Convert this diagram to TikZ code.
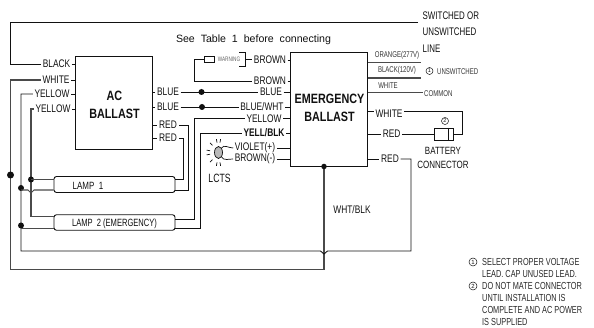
\documentclass[tikz,border=0pt]{standalone}
\usepackage{fontspec}
\setmainfont{Liberation Sans}
\newfontfamily\narrowf[FakeStretch=0.76]{Liberation Sans}
\newfontfamily\tightf[FakeStretch=0.72]{Liberation Sans}
\newfontfamily\titlef[FakeStretch=0.8]{Liberation Sans}
\usetikzlibrary{calc,shapes.geometric}
\definecolor{ink}{HTML}{111111}
\definecolor{wiregray}{HTML}{4A4A4A}
\tikzset{
  wire/.style={draw=ink,line width=0.9pt},
  gwire/.style={draw=wiregray,line width=1.05pt},
  boxn/.style={draw=ink,line width=0.9pt,fill=white},
  lab/.style={inner sep=1.5pt,font=\narrowf\fontsize{11}{12}\selectfont,text=ink},
  small/.style={inner sep=1pt,font=\tightf\fontsize{8.4}{10}\selectfont,text=ink!85!white},
  tiny/.style={inner sep=0.5pt,font=\tightf\fontsize{6.5}{8}\selectfont,text=ink!65!white},
  title/.style={align=center,inner sep=0pt,font=\bfseries\titlef\fontsize{13.5}{18.5}\selectfont,text=ink},
  note/.style={anchor=west,inner sep=0pt,font=\tightf\fontsize{10.2}{11}\selectfont,text=ink!90!white},
  num/.style={circle,draw=ink,line width=0.5pt,inner sep=0pt,minimum size=7pt,font=\fontsize{5.5}{6}\selectfont,text=ink},
  lampn/.style={draw=ink,line width=0.9pt,rounded corners=2.5pt,fill=white,minimum width=121pt,inner sep=0pt},
  jn/.style={circle,fill=ink,inner sep=0pt,minimum size=#1},
  jn/.default=6pt
}
\begin{document}
\begin{tikzpicture}[x=1pt,y=-1pt]
\useasboundingbox (0,0) rectangle (594,328);
\fill[white] (0,0) rectangle (594,328);

% boxes
\node[boxn,minimum width=76.5pt,minimum height=92.5pt,inner sep=0pt] (acb) at (113.75,102.75) {};
\node[title] at (114.5,105) {AC\\BALLAST};
\node[boxn,minimum width=77.5pt,minimum height=113.5pt,inner sep=0pt] (emb) at (328.75,109.25) {};
\node[title] at (329.5,108) {EMERGENCY\\BALLAST};
\node[lampn,minimum height=16pt] (l1) at (114.5,184.5) {};
\node[lab,font=\narrowf\fontsize{10.5}{12}\selectfont] at (88,185.5) {LAMP \ 1};
\node[lampn,minimum height=15.5pt] (l2) at (114.5,222.5) {};
\node[lab,font=\tightf\fontsize{10.5}{12}\selectfont] at (114.5,223.5) {LAMP \ 2 (EMERGENCY)};

% title text
\node[inner sep=0pt,font=\fontsize{10.6}{12}\selectfont,text=ink] at (253.5,40) {See\ \ Table\ \ 1\ \ before\ \ connecting};

% AC left labels
\node[lab] (black) at (56.5,64) {BLACK};
\node[lab] (white) at (56,80) {WHITE};
\node[lab] (yel1) at (52,94) {YELLOW};
\node[lab] (yel2) at (53,109) {YELLOW};
% AC right labels
\node[lab] (bl1) at (168,92) {BLUE};
\node[lab] (bl2) at (168,107) {BLUE};
\node[lab] (rd1) at (168,125) {RED};
\node[lab] (rd2) at (168,138) {RED};
% Emergency left labels
\node[lab] (brn1) at (270,60) {BROWN};
\node[lab] (brn2) at (270,81) {BROWN};
\node[lab] (eblue) at (271,92) {BLUE};
\node[lab] (ebw) at (262,107) {BLUE/WHT};
\node[lab] (eyel) at (264,118.5) {YELLOW};
\node[lab,font=\bfseries\narrowf\fontsize{11}{12}\selectfont] (eyb) at (264,133) {YELL/BLK};
\node[lab] (vio) at (255,148) {VIOLET(+)};
\node[lab] (bro) at (255,159) {BROWN(-)};
\node[lab,font=\tightf\fontsize{12}{12}\selectfont] at (219.5,178.5) {LCTS};
% Emergency right labels
\node[small] at (397,55) {ORANGE(277V)};
\node[small] at (397,70) {BLACK(120V)};
\node[small] at (388,86) {WHITE};
\node[small,anchor=west] (comm) at (423,94) {COMMON};
\node[small,anchor=west] at (436,72) {UNSWITCHED};
\node[num] at (429.5,71) {1};
\node[lab] (ewh) at (389,113.5) {WHITE};
\node[lab] (erd) at (391.7,134) {RED};
\node[lab] (erd2) at (390,159) {RED};
\node[lab,font=\narrowf\fontsize{10.5}{12}\selectfont] at (443,151) {BATTERY};
\node[lab,font=\narrowf\fontsize{10.5}{12}\selectfont] at (443,165) {CONNECTOR};
\node[lab] at (352,210) {WHT/BLK};
\node[num] at (445,121) {2};
\node[lab,anchor=west,font=\tightf\fontsize{11}{12}\selectfont] (sw) at (421,16) {SWITCHED OR};
\node[lab,anchor=west,font=\tightf\fontsize{11}{12}\selectfont] at (421,32) {UNSWITCHED};
\node[lab,anchor=west,font=\tightf\fontsize{11}{12}\selectfont] at (421,48.5) {LINE};

% line wires
\coordinate (topr) at (418,22);
\coordinate (topl) at (10,22);
\draw[wire] (topr) -- (topl) |- (black.west);
\draw[wire] (black.east) -- (acb.west |- black);
\coordinate (wb) at (10.5,269.5);
\coordinate (wbr) at (324,269.5);
\coordinate (ndot) at (324,166.5);
\draw[gwire] (white.west) -| (wb) -- (wbr) -- (ndot);
\draw[wire] (white.east) -- (acb.west |- white);
\draw[wire] (yel1.east) -- (acb.west |- yel1);
\draw[wire] (yel2.east) -- (acb.west |- yel2);
\node[jn=7pt] (bigdot) at (10.5,175) {};

% yellow rails
\coordinate (y1b) at (21,251);
\coordinate (y1r) at (320.5,251);
\coordinate (y1m) at (324,254);
\coordinate (y1r2) at (327.5,251);
\coordinate (y1e) at (411,251);
\draw[wire] (yel1.west) -| (y1b) -- (y1r) -- (y1m) -- (y1r2) -- (y1e) |- (erd2.east);
\draw[gwire] (yel2.west) -| (31,216.5) -- (l2.west |- 0,216.5);
\node[jn] (d1) at (31,179.5) {};
\node[jn] (d2) at (21,188) {};
\node[jn] (d3) at (21,225.5) {};
\draw[gwire] (d1.center) -- (l1.west |- d1);
\draw[gwire] (21,190) -- (28,190) -- (31,193) -- (34,190) -- (l1.west |- 0,190);
\draw[gwire] (21,228.5) -- (l2.west |- 0,228.5);

% lamp right ends
\coordinate (r1t) at (183.5,179.5);
\coordinate (r1b) at (188.7,190);
\coordinate (r2t) at (194.3,219);
\coordinate (r2b) at (200.7,228.7);
\draw[wire] (l1.east |- r1t) -- (r1t) |- (rd2.east);
\draw[wire] (l1.east |- r1b) -- (r1b) |- (rd1.east);
\draw[wire] (l2.east |- r2t) -- (r2t) |- (eyel.west);
\draw[wire] (l2.east |- r2b) -- (r2b) |- (eyb.west);

% AC right ticks
\foreach \n in {bl1,bl2,rd1,rd2} \draw[wire] (acb.east |- \n) -- (\n.west);
\node[jn] (bd1) at (201.5,92) {};
\node[jn] (bd2) at (202,107) {};
\draw[wire] (bl1.east) -- (eblue.west);
\draw[wire] (bl2.east) -- (ebw.west);

% Emergency left ticks
\foreach \n in {brn1,brn2,eblue,ebw,eyel,eyb,vio,bro} \draw[wire] (\n.east) -- (emb.west |- \n);

% warning fuse
\node[draw=ink,line width=0.9pt,minimum width=9.5pt,minimum height=6pt,inner sep=0pt] (fuse) at (209.25,59) {};
\node[tiny] (warn) at (229,59.5) {WARNING};
\coordinate (brk) at (245.5,59.5);
\draw[wire] (239,52.7) -- (245.5,52.7) -- (245.5,66) -- (239,66);
\draw[wire] (brk) -- (brn1.west |- brk);
\draw[wire] (fuse.west) -- (194.5,59) |- (brn2.west);

% LCTS lamp
\node[ellipse,draw=ink,fill=gray!55,line width=0.7pt,minimum width=8pt,minimum height=12pt,inner sep=0pt] (lc) at (218.5,152.5) {};
\draw[wire,line width=0.7pt] (lc.north east) to[out=60,in=180] (vio.west);
\draw[wire,line width=0.7pt] (lc.south east) to[out=-60,in=180] (bro.west);
\foreach \a in {100,135,170,190,225,260,80,280}
  \draw[ink,line width=0.7pt] ($(lc.center)+(\a:8.5 and 10)$) -- ($(lc.center)+(\a:12 and 13.5)$);

% Emergency right wires
\coordinate (o) at (421,62.7);
\coordinate (k) at (421,78);
\draw[gwire] (emb.east |- o) -- (o);
\draw[gwire] (emb.east |- k) -- (k);
\draw[gwire] (emb.east |- 0,92.8) -- (comm.west |- 0,92.8);
\draw[wire] (emb.east |- 0,111.5) -- (ewh.west |- 0,111.5);
\draw[wire] (emb.east |- erd) -- (erd.west);
\draw[wire] (emb.east |- erd2) -- (erd2.west);

% battery connector
\node[draw=ink,line width=0.9pt,fill=white,minimum width=19pt,minimum height=12pt,inner sep=0pt] (bc) at (443.5,134) {};
\draw[wire] (448,128) -- (448,140);
\draw[wire] (erd.east) -- (bc.west |- erd);
\draw[wire] (ewh.east |- 0,111.5) -- (462,111.5) |- (bc.east |- erd);

% centre dot on emergency bottom
\node[jn=5.5pt] (ed) at (324,166.5) {};

% notes
\node[num,minimum size=8pt,font=\fontsize{6}{6}\selectfont] at (473,262) {1};
\node[note] at (482,262) {SELECT PROPER VOLTAGE};
\node[note] at (482,274) {LEAD. CAP UNUSED LEAD.};
\node[num,minimum size=8pt,font=\fontsize{6}{6}\selectfont] at (473,286) {2};
\node[note] at (482,286) {DO NOT MATE CONNECTOR};
\node[note] at (482,298) {UNTIL INSTALLATION IS};
\node[note] at (482,310) {COMPLETE AND AC POWER};
\node[note] at (482,322) {IS SUPPLIED};
\end{tikzpicture}
\end{document}
